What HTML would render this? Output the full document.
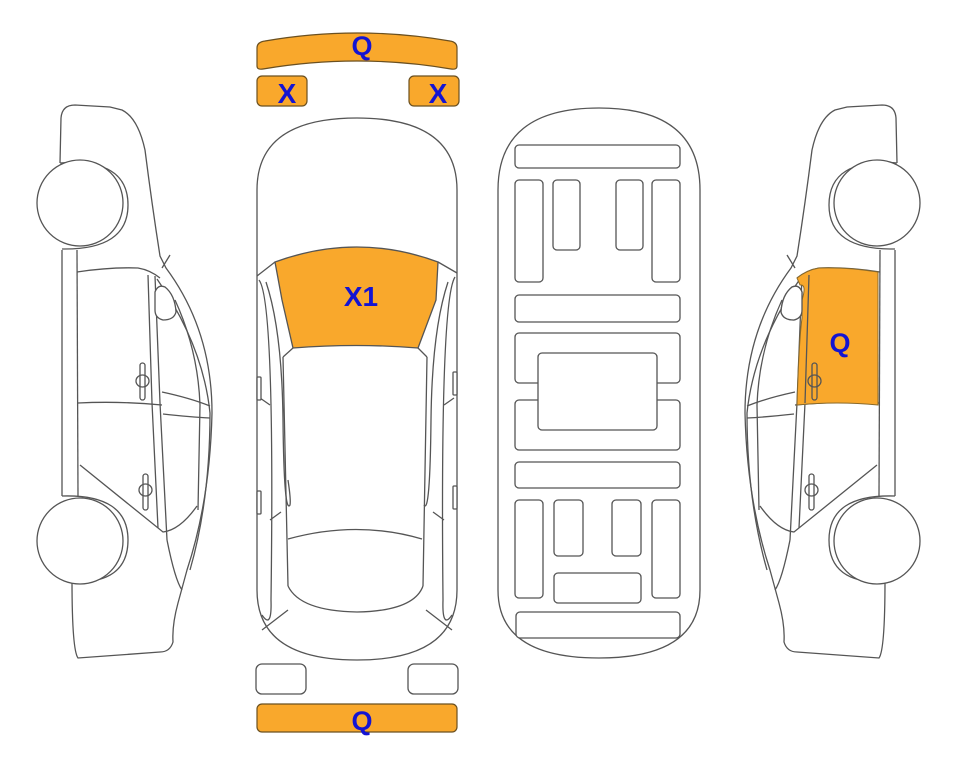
<!DOCTYPE html>
<html><head><meta charset="utf-8"><style>
html,body{margin:0;padding:0;background:#fff;}
svg{display:block;}
text{font-family:"Liberation Sans",Arial,sans-serif;font-weight:bold;fill:#1414d2;text-anchor:middle;}
</style></head><body>
<svg width="963" height="768" viewBox="0 0 963 768" xmlns="http://www.w3.org/2000/svg">
<defs>
<g id="side" fill="none" stroke="#555" stroke-width="1.3">
  <!-- body outline -->
  <path d="M60,163 L61,118 Q62,105 75,105 L110,107 L122,110 Q138,118 145,150 Q152,205 160,256 L166,268 Q212,330 212,413 Q210,500 187,570 L178,603 Q172,625 173,642 Q170,652 160,652 L78,658 Q72,650 72,580" fill="#fff"/>
  <!-- fender arcs -->
  <path d="M60,163 Q128,158 128,205 Q128,250 62,249"/>
  <path d="M62,496 Q128,494 128,540 Q128,584 72,582"/>
  <!-- wheels -->
  <circle cx="80" cy="203" r="43" fill="#fff"/>
  <circle cx="80" cy="541" r="43" fill="#fff"/>
  <!-- sill -->
  <line x1="62" y1="250" x2="62" y2="496"/>
  <line x1="77" y1="250" x2="78" y2="496"/>
  <!-- door panel outline -->
  <path d="M77,272 Q110,267 138,268 Q150,270 160,278"/>
  <path d="M148,275 L152,403 L158,528"/>
  <path d="M155,276 L160,403 L167,540"/>
  <path d="M78,403 Q120,401 162,405"/>
  <path d="M80,465 L163,532 Q180,530 197,506"/>
  <!-- windshield/pillar arcs -->
  <path d="M157,279 Q203,345 210,413 Q210,500 190,570"/>
  <path d="M162,268 L170,255"/>
  <path d="M175,300 Q198,350 200,405 L198,510"/>
  <path d="M162,392 Q190,398 210,406"/>
  <path d="M163,414 Q190,417 210,418"/>
  <path d="M167,540 Q175,580 182,590"/>
  <!-- mirror -->
  <path d="M155,292 Q158,284 165,287 Q175,295 176,312 Q174,320 163,320 Q155,318 155,310 Z" fill="#fff"/>
  <!-- handles -->
  <rect x="140" y="363" width="5" height="37" rx="2.5" fill="#fff"/>
  <ellipse cx="142.5" cy="381" rx="6.5" ry="6"/>
  <rect x="143" y="474" width="5" height="36" rx="2.5" fill="#fff"/>
  <ellipse cx="145.5" cy="490" rx="6.5" ry="6"/>
</g>
</defs>

<!-- left side view -->
<use href="#side"/>

<!-- right side view (mirror) -->
<g transform="translate(957,0) scale(-1,1)">
  <use href="#side"/>
  <path d="M79,272 Q110,267 138,268 Q150,270 160,278 L157,285 Q150,284 155,300 L155,318 Q158,340 160,405 Q120,401 79,405 Z" fill="#f9a82c" stroke="#8a6a2a" stroke-width="1"/>
  <path d="M155,292 Q158,284 165,287 Q175,295 176,312 Q174,320 163,320 Q155,318 155,310 Z" fill="#fff" stroke="#555" stroke-width="1.3"/>
  <line x1="148" y1="275" x2="152" y2="403" stroke="#555" stroke-width="1.3"/>
  <rect x="140" y="363" width="5" height="37" rx="2.5" fill="#f9a82c" stroke="#555" stroke-width="1.3"/>
  <ellipse cx="142.5" cy="381" rx="6.5" ry="6" fill="none" stroke="#555" stroke-width="1.3"/>
</g>
<text x="840" y="352" font-size="27">Q</text>

<!-- top view -->
<g fill="none" stroke="#555" stroke-width="1.3">
  <path d="M257,190 Q257,118 357,118 Q457,118 457,190 L457,590 Q457,660 357,660 Q257,660 257,590 Z" fill="#fff"/>
  <path d="M275,262 Q357,232 438,262 L436,300 L418,348 Q357,343 293,348 L282,300 Z" fill="#f9a82c" stroke="#555"/>
  <path d="M257,276 L275,262 M457,273 L438,262"/>
  <path d="M283,357 L293,348 M427,357 L418,348"/>
  <path d="M283,357 L288,586 M427,357 L423,586"/>
  <path d="M288,539 Q357,520 422,539"/>
  <path d="M288,586 Q300,611 357,612 Q414,611 423,586"/>
  <path d="M259,280 Q275,300 271,600 Q272,630 262,615"/>
  <path d="M455,277 Q440,300 443,600 Q442,630 452,615"/>
  <path d="M266,282 Q282,330 283,420 Q284,515 290,505 Q291,500 288,480"/>
  <path d="M448,282 Q432,330 431,420 Q430,515 424,505"/>
  <path d="M262,630 L288,610 M452,630 L426,610"/>
  <path d="M260,398 L270,405 M454,398 L444,405"/>
  <path d="M270,520 L281,512 M444,520 L433,512"/>
  <rect x="257" y="377" width="4" height="23" rx="1" fill="#fff"/>
  <rect x="257" y="491" width="4" height="23" rx="1" fill="#fff"/>
  <rect x="453" y="372" width="4" height="23" rx="1" fill="#fff"/>
  <rect x="453" y="486" width="4" height="23" rx="1" fill="#fff"/>
  <rect x="256" y="664" width="50" height="30" rx="6" fill="#fff"/>
  <rect x="408" y="664" width="50" height="30" rx="6" fill="#fff"/>
</g>
<text x="361" y="306" font-size="28">X1</text>

<!-- orange top pieces -->
<g fill="#f9a82c" stroke="#6b5020" stroke-width="1.2">
  <path d="M257,48 Q257,42 265,41 Q357,25 450,41 Q457,42 457,48 L457,66 Q457,70 451,69 Q357,53 263,69 Q257,70 257,66 Z"/>
  <rect x="257" y="76" width="50" height="30" rx="5"/>
  <rect x="409" y="76" width="50" height="30" rx="5"/>
  <rect x="257" y="704" width="200" height="28" rx="5"/>
</g>
<text x="362" y="55" font-size="27">Q</text>
<text x="287" y="103" font-size="28">X</text>
<text x="438" y="103" font-size="28">X</text>
<text x="362" y="730" font-size="27">Q</text>

<!-- underside view -->
<g fill="#fff" stroke="#555" stroke-width="1.3">
  <path d="M498,190 Q498,108 599,108 Q700,108 700,190 L700,590 Q700,658 599,658 Q498,658 498,590 Z"/>
  <rect x="515" y="145" width="165" height="23" rx="4"/>
  <rect x="515" y="180" width="28" height="102" rx="4"/>
  <rect x="553" y="180" width="27" height="70" rx="4"/>
  <rect x="616" y="180" width="27" height="70" rx="4"/>
  <rect x="652" y="180" width="28" height="102" rx="4"/>
  <rect x="515" y="295" width="165" height="27" rx="4"/>
  <rect x="515" y="333" width="165" height="50" rx="4"/>
  <rect x="515" y="400" width="165" height="50" rx="4"/>
  <rect x="538" y="353" width="119" height="77" rx="4"/>
  <rect x="515" y="462" width="165" height="26" rx="4"/>
  <rect x="515" y="500" width="28" height="98" rx="4"/>
  <rect x="554" y="500" width="29" height="56" rx="4"/>
  <rect x="612" y="500" width="29" height="56" rx="4"/>
  <rect x="652" y="500" width="28" height="98" rx="4"/>
  <rect x="554" y="573" width="87" height="30" rx="4"/>
  <rect x="516" y="612" width="164" height="26" rx="4"/>
</g>
</svg>
</body></html>
